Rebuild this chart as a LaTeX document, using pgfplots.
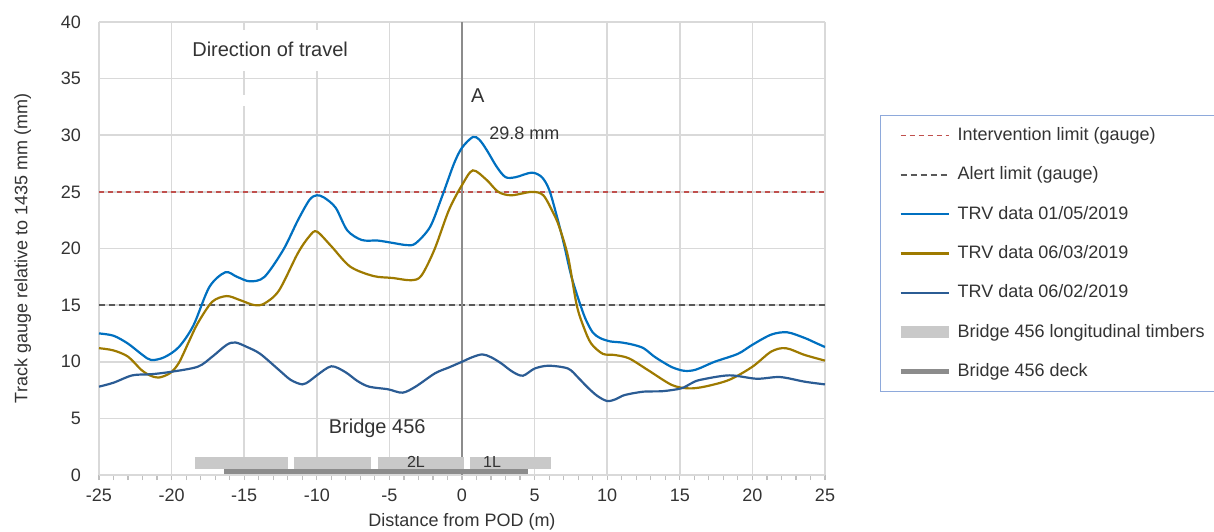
\documentclass[border=0pt]{standalone}
\usepackage{pgfplots}
\pgfplotsset{compat=1.18}
\usepackage{fontspec}
\setmainfont{Liberation Sans}

\definecolor{trvmay}{HTML}{0070C0}
\definecolor{trvmar}{HTML}{9E7A00}
\definecolor{trvfeb}{HTML}{2B5C94}
\definecolor{intervred}{HTML}{C0504D}
\definecolor{alertgray}{HTML}{595959}
\definecolor{gridgray}{HTML}{D9D9D9}
\definecolor{tickgray}{HTML}{BFBFBF}
\definecolor{txt}{HTML}{333333}
\definecolor{timber}{HTML}{C9C9C9}
\definecolor{deck}{HTML}{8C8C8C}
\definecolor{legendborder}{HTML}{8EA9DB}

\newcommand\nine{\fontsize{9}{10.5}\selectfont}
\newcommand\ten{\fontsize{10}{12}\selectfont}

\begin{document}
\begin{tikzpicture}
\begin{axis}[
    at={(0,0)}, anchor=south west,
    scale only axis,
    width=363pt, height=226.5pt,
    xmin=-25, xmax=25, ymin=0, ymax=40,
    xtick={-25,-20,...,25},
    ytick={0,5,...,40},
    minor x tick num=4,
    grid=major,
    major grid style={gridgray, line width=0.8pt},
    axis x line*=bottom, axis y line*=left,
    axis line style={gridgray, line width=0.8pt, -},
    tick align=outside,
    major tick length=2.5pt, minor tick length=2.5pt,
    xtick style={tickgray, line width=0.6pt},
    minor x tick style={tickgray, line width=0.6pt},
    ytick style={draw=none},
    /pgf/number format/assume math mode=true,
    ticklabel style={font=\nine, text=txt},
    yticklabel style={xshift=-3pt},
    xticklabel style={yshift=-1pt},
    xlabel={Distance from POD (m)},
    ylabel={Track gauge relative to 1435 mm (mm)},
    label style={font=\nine, text=txt},
    xlabel style={yshift=1pt},
    ylabel style={yshift=8pt},
    legend style={
        at={(1.0758,0.7947)}, anchor=north west,
        draw=legendborder, line width=0.6pt,
        font=\nine, text=txt,
        inner xsep=7pt, inner ysep=4pt,
        row sep=7.65pt,
        nodes={inner sep=1.5pt, text height=7pt, text depth=2pt},
    },
    legend cell align=left,
    legend image code/.code={\draw[#1] (0pt,0pt) -- (24pt,0pt);},
]

% limits
\addplot[intervred, line width=0.8pt, dash pattern=on 2.5pt off 2pt]
    coordinates {(-25,25) (25,25)};
\addlegendentry{Intervention limit (gauge)}
\addplot[alertgray, line width=0.8pt, dash pattern=on 3pt off 2pt]
    coordinates {(-25,15) (25,15)};
\addlegendentry{Alert limit (gauge)}

% point A
\addplot[deck, line width=0.6pt, forget plot] coordinates {(0,0) (0,40)};

\addplot[trvmay, line width=1.1pt, smooth] coordinates {
    (-25,12.5) (-24,12.3) (-23,11.6) (-22,10.6) (-21.4,10.15) (-20.5,10.4)
    (-19.5,11.3) (-18.5,13.2) (-17.4,16.6) (-16.3,17.9) (-15.5,17.5)
    (-14.6,17.1) (-13.6,17.5) (-12.3,19.9) (-11.3,22.5) (-10.5,24.3)
    (-10,24.7) (-9.5,24.5) (-8.7,23.6) (-7.9,21.6) (-6.9,20.75) (-5.8,20.7)
    (-4.8,20.5) (-3.8,20.3) (-3.2,20.45) (-2.2,21.9) (-1.4,24.5) (-0.55,27.5)
    (0,28.9) (0.75,29.85) (1.2,29.6) (1.7,28.7) (2.4,27.2) (3.0,26.3)
    (3.7,26.3) (4.8,26.7) (5.5,26.3) (6.0,25.2) (6.5,23.0) (7.0,20.5)
    (7.5,17.7) (8.0,15.6) (8.5,13.8) (9.0,12.6) (9.5,12.1) (10.2,11.8)
    (11,11.7) (11.8,11.5) (12.5,11.2) (13.2,10.5) (13.8,10.0) (14.5,9.5)
    (15.3,9.2) (16.1,9.3) (17.4,10.0) (19,10.7) (20,11.5) (21.3,12.4)
    (22.4,12.6) (23.6,12.1) (24.3,11.7) (25,11.3)
};
\addlegendentry{TRV data 01/05/2019}

\addplot[trvmar, line width=1.1pt, smooth] coordinates {
    (-25,11.2) (-24,11.0) (-23,10.45) (-22.1,9.3) (-21.5,8.8) (-20.9,8.6)
    (-20.1,9.0) (-19.5,9.9) (-18.8,11.8) (-18.2,13.4) (-17.2,15.3)
    (-16.2,15.8) (-15.3,15.45) (-14.3,15.0) (-13.6,15.15) (-12.6,16.3)
    (-11.3,19.6) (-10.5,21.1) (-10.0,21.5) (-9.0,20.2) (-7.7,18.4)
    (-6.1,17.57) (-4.8,17.4) (-3.5,17.2) (-2.8,17.6) (-1.9,19.9) (-0.9,23.4)
    (0,25.6) (0.75,26.9) (1.7,26.05) (2.5,25.0) (3.4,24.7) (4.8,25.0)
    (5.6,24.7) (6.3,23.1) (6.7,21.9) (7.3,19.3) (7.9,15.0) (8.4,13.0)
    (8.9,11.6) (9.7,10.7) (10.5,10.6) (11.5,10.3) (12.8,9.27) (14.45,7.95)
    (15.6,7.65) (16.7,7.8) (18.4,8.4) (20.0,9.56) (21.3,10.9) (22.3,11.2)
    (23.6,10.6) (25,10.1)
};
\addlegendentry{TRV data 06/03/2019}

\addplot[trvfeb, line width=1.1pt, smooth] coordinates {
    (-25,7.8) (-24,8.15) (-22.7,8.8) (-21.4,8.9) (-20.1,9.1) (-18.2,9.56)
    (-17.2,10.45) (-16.2,11.5) (-15.6,11.7) (-14.8,11.3) (-13.9,10.7)
    (-12.6,9.27) (-11.8,8.4) (-11.0,8.0) (-10.5,8.3) (-10.0,8.8) (-9.0,9.6)
    (-8.05,9.1) (-7.2,8.3) (-6.4,7.8) (-5.1,7.57) (-4.1,7.27) (-3.2,7.8)
    (-1.86,8.98) (-0.9,9.5) (0,10.0) (0.7,10.4) (1.4,10.65) (2.0,10.4)
    (2.7,9.86) (3.5,9.1) (4.2,8.77) (5.0,9.4) (5.97,9.65) (7.3,9.4)
    (8.0,8.6) (8.6,7.8) (9.3,7.0) (10.0,6.53) (10.6,6.7) (11.2,7.06)
    (12.5,7.36) (13.8,7.4) (15.1,7.65) (15.8,8.1) (16.4,8.4) (18.4,8.8)
    (20.3,8.5) (21.9,8.65) (23.6,8.24) (25,8.0)
};
\addlegendentry{TRV data 06/02/2019}

% bridge
\addplot[timber, line width=6pt, unbounded coords=jump] coordinates {
    (-18.4,1.02) (-12.0,1.02) (nan,nan)
    (-11.6,1.02) (-6.3,1.02) (nan,nan)
    (-5.8,1.02) (0.15,1.02) (nan,nan)
    (0.55,1.02) (6.1,1.02)
};
\addlegendentry{Bridge 456 longitudinal timbers}
\addplot[deck, line width=2.5pt] coordinates {(-16.4,0.33) (4.55,0.33)};
\addlegendentry{Bridge 456 deck}

% annotations
\fill[white] (axis cs:-19.4,35.67) rectangle (axis cs:-7,39.3);
\fill[white] (axis cs:-15.3,32.6) rectangle (axis cs:-14.7,33.55);
\node[anchor=west, font=\ten, text=txt, inner sep=0pt] at (axis cs:-18.6,37.6) {Direction of travel};
\node[anchor=west, font=\ten, text=txt, inner sep=0pt] at (axis cs:0.6,33.5) {A};
\node[anchor=west, font=\nine, text=txt, inner sep=0pt] at (axis cs:1.86,30.2) {29.8 mm};
\node[anchor=west, font=\ten, text=txt, inner sep=0pt] at (axis cs:-9.2,4.15) {Bridge 456};
\node[font=\fontsize{8}{9}\selectfont, text=txt, inner sep=0pt] at (axis cs:-3.17,1.15) {2L};
\node[font=\fontsize{8}{9}\selectfont, text=txt, inner sep=0pt] at (axis cs:2.07,1.15) {1L};
\end{axis}
\pgfresetboundingbox
\useasboundingbox (-49.5pt,-28pt) rectangle (557.5pt,237.5pt);
\end{tikzpicture}
\end{document}
